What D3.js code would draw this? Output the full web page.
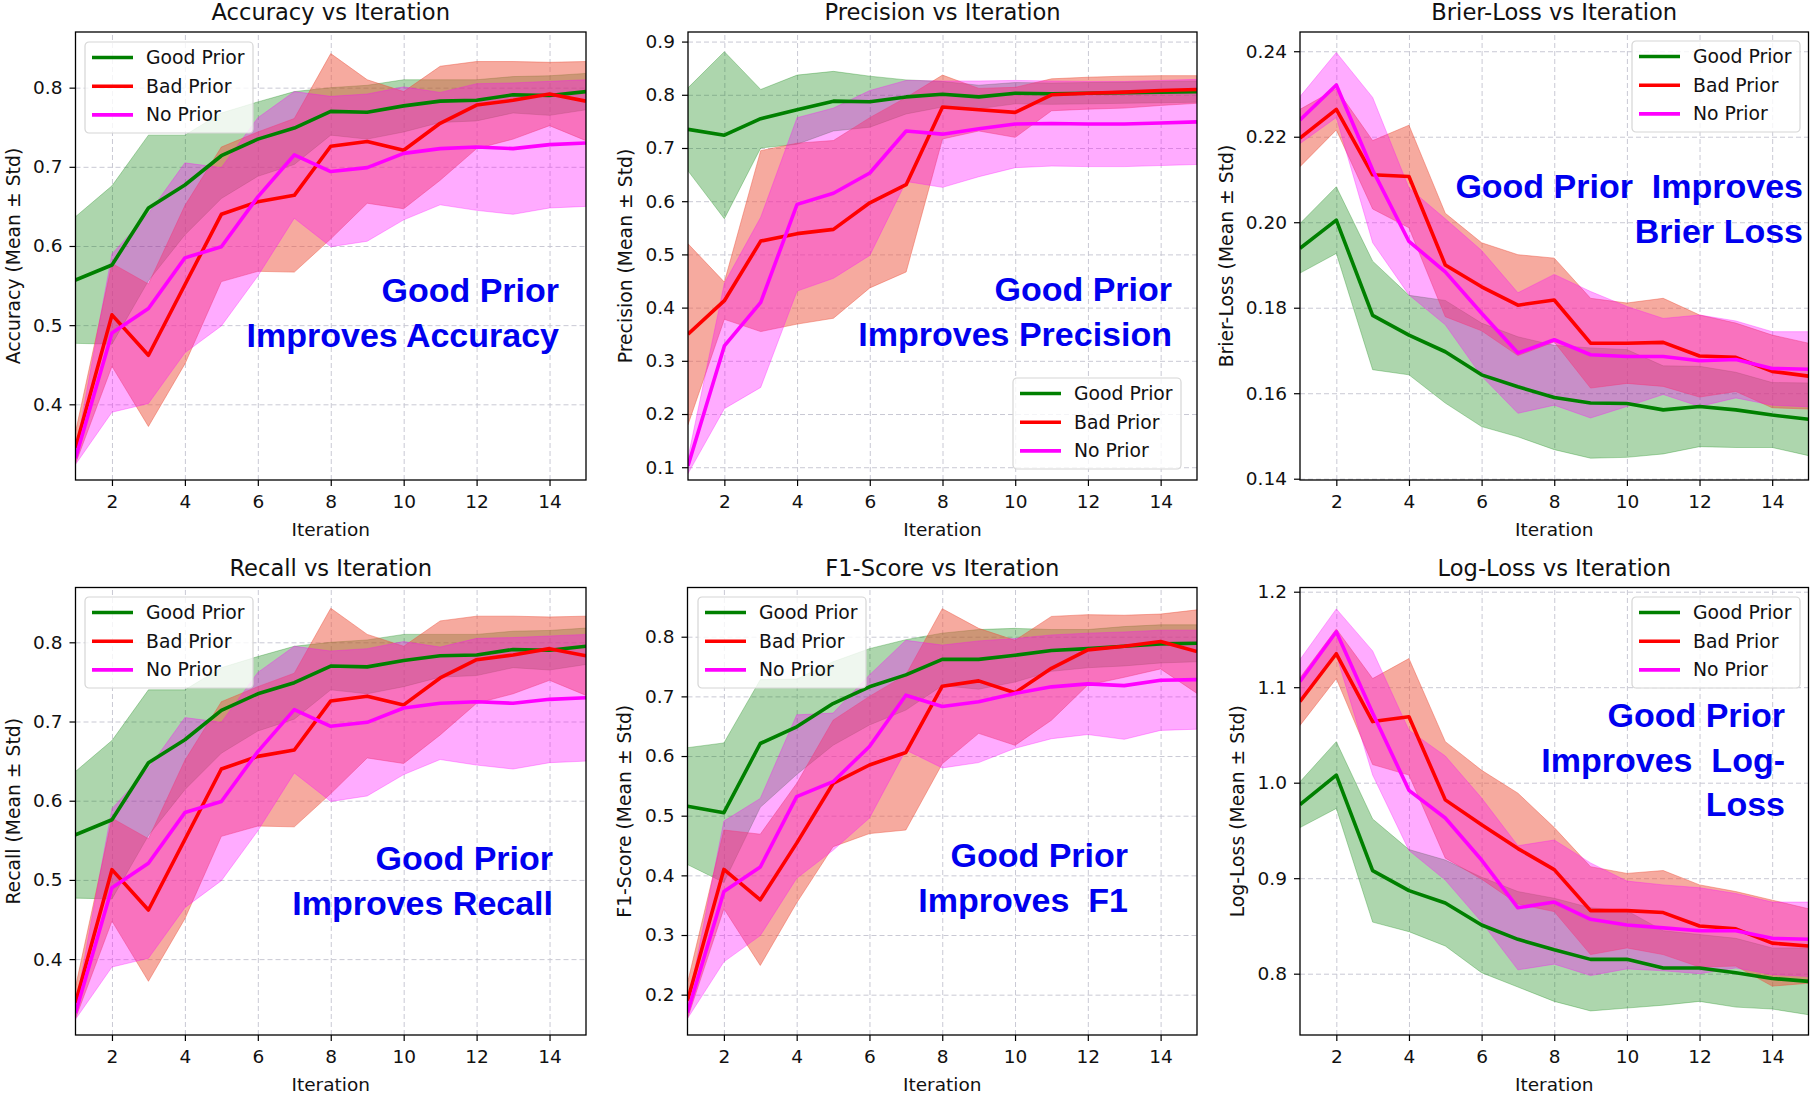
<!DOCTYPE html>
<html>
<head>
<meta charset="utf-8">
<script src="https://cdn.jsdelivr.net/npm/d3@7/dist/d3.min.js"></script>
<style>
body { margin:0; background:#fff; }
svg text { font-family:"DejaVu Sans", sans-serif; fill:#111; }
svg text.note { font-family:"Liberation Sans", Arial, sans-serif; font-weight:bold; fill:#0000ee; }
</style>
</head>
<body>
<svg id="mysvg" width="1814" height="1094"></svg>
<script>
var iterations = [1,2,3,4,5,6,7,8,9,10,11,12,13,14,15];
var seriesNames = ["Good Prior", "Bad Prior", "No Prior"];
var xTicks = [2,4,6,8,10,12,14];

// accuracy (recall panel shows the very same curves)
var accGoodMean = [0.557,0.576,0.648,0.677,0.714,0.735,0.749,0.770,0.769,0.777,0.783,0.784,0.791,0.790,0.795];
var accGoodStd  = [0.080,0.100,0.092,0.063,0.054,0.047,0.046,0.030,0.034,0.033,0.027,0.026,0.023,0.025,0.023];
var accBadMean  = [0.345,0.513,0.462,0.551,0.640,0.656,0.664,0.726,0.732,0.721,0.755,0.778,0.784,0.792,0.783];
var accBadStd   = [0.020,0.065,0.090,0.100,0.085,0.088,0.097,0.117,0.078,0.074,0.072,0.055,0.049,0.040,0.050];
var accNoMean   = [0.332,0.490,0.521,0.585,0.599,0.662,0.715,0.694,0.699,0.717,0.723,0.725,0.723,0.728,0.730];
var accNoStd    = [0.008,0.100,0.120,0.120,0.100,0.100,0.080,0.095,0.093,0.084,0.071,0.080,0.083,0.080,0.080];

var precGoodMean = [0.735,0.724,0.755,0.772,0.788,0.787,0.796,0.801,0.796,0.803,0.802,0.803,0.804,0.805,0.806];
var precGoodStd  = [0.078,0.157,0.055,0.065,0.056,0.048,0.032,0.024,0.022,0.020,0.020,0.020,0.020,0.020,0.020];
var precBadMean  = [0.350,0.413,0.525,0.539,0.547,0.597,0.631,0.777,0.772,0.767,0.800,0.803,0.805,0.808,0.810];
var precBadStd   = [0.170,0.035,0.170,0.170,0.167,0.160,0.164,0.060,0.040,0.047,0.030,0.030,0.030,0.028,0.026];
var precNoMean   = [0.103,0.328,0.410,0.594,0.615,0.653,0.732,0.726,0.736,0.745,0.746,0.745,0.745,0.747,0.749];
var precNoStd    = [0.015,0.118,0.160,0.163,0.160,0.155,0.095,0.100,0.090,0.082,0.080,0.080,0.080,0.080,0.080];

var brGoodMean = [0.1939,0.2005,0.1782,0.1736,0.1697,0.1643,0.1615,0.1590,0.1577,0.1576,0.1561,0.1569,0.1561,0.1549,0.1539];
var brGoodStd  = [0.0058,0.0078,0.0127,0.0093,0.0120,0.0121,0.0117,0.0122,0.0129,0.0126,0.0103,0.0094,0.0088,0.0076,0.0085];
var brBadMean  = [0.2197,0.2264,0.2111,0.2107,0.1900,0.1849,0.1806,0.1818,0.1717,0.1717,0.1719,0.1687,0.1684,0.1651,0.1640];
var brBadStd   = [0.0067,0.0048,0.0080,0.0120,0.0121,0.0103,0.0118,0.0098,0.0105,0.0094,0.0103,0.0096,0.0080,0.0085,0.0077];
var brNoMean   = [0.2239,0.2321,0.2122,0.1955,0.1884,0.1787,0.1694,0.1725,0.1690,0.1686,0.1686,0.1676,0.1679,0.1658,0.1656];
var brNoStd    = [0.0055,0.0076,0.0170,0.0125,0.0124,0.0147,0.0141,0.0153,0.0148,0.0117,0.0089,0.0107,0.0090,0.0086,0.0088];

var f1GoodMean = [0.516,0.505,0.621,0.649,0.688,0.716,0.736,0.762,0.762,0.769,0.777,0.780,0.784,0.788,0.789];
var f1GoodStd  = [0.098,0.117,0.107,0.080,0.070,0.064,0.059,0.044,0.050,0.045,0.035,0.032,0.033,0.032,0.031];
var f1BadMean  = [0.190,0.410,0.359,0.454,0.554,0.585,0.606,0.717,0.726,0.706,0.747,0.778,0.784,0.792,0.775];
var f1BadStd   = [0.030,0.066,0.110,0.100,0.106,0.115,0.130,0.130,0.088,0.088,0.087,0.059,0.052,0.046,0.070];
var f1NoMean   = [0.170,0.373,0.414,0.532,0.557,0.616,0.702,0.683,0.691,0.705,0.716,0.721,0.718,0.727,0.728];
var f1NoStd    = [0.010,0.118,0.115,0.137,0.115,0.120,0.092,0.103,0.102,0.092,0.087,0.085,0.090,0.084,0.083];

var llGoodMean = [0.977,1.008,0.908,0.887,0.874,0.851,0.836,0.825,0.815,0.815,0.806,0.806,0.801,0.795,0.792];
var llGoodStd  = [0.024,0.035,0.054,0.043,0.045,0.050,0.050,0.054,0.054,0.051,0.039,0.035,0.036,0.032,0.035];
var llBadMean  = [1.085,1.135,1.064,1.069,0.982,0.956,0.931,0.909,0.866,0.866,0.864,0.850,0.847,0.832,0.829];
var llBadStd   = [0.025,0.026,0.045,0.061,0.061,0.057,0.058,0.044,0.046,0.039,0.044,0.043,0.039,0.045,0.039];
var llNoMean   = [1.106,1.158,1.073,0.992,0.963,0.919,0.869,0.875,0.857,0.851,0.848,0.845,0.845,0.837,0.836];
var llNoStd    = [0.023,0.024,0.065,0.063,0.065,0.065,0.065,0.065,0.059,0.046,0.045,0.045,0.039,0.038,0.039];

var accTicks  = [0.4,0.5,0.6,0.7,0.8];
var precTicks = [0.1,0.2,0.3,0.4,0.5,0.6,0.7,0.8,0.9];
var brTicks   = [0.14,0.16,0.18,0.20,0.22,0.24];
var f1Ticks   = [0.2,0.3,0.4,0.5,0.6,0.7,0.8];
var llTicks   = [0.8,0.9,1.0,1.1,1.2];

var lineColors = ["green", "red", "magenta"];
var fillColors = ["green", "#ee5540", "magenta"];
var fillAlpha  = [0.32, 0.5, 0.33];

var panels = [
	{title:"Accuracy vs Iteration", ylab:"Accuracy (Mean \u00b1 Std)", left:75.5, right:586, top:32, bottom:480,
	 dom:[0.3044,0.8703], ticks:accTicks, fmt:".1f", ylabX:13,
	 series:[[accGoodMean,accGoodStd],[accBadMean,accBadStd],[accNoMean,accNoStd]],
	 legend:[85,42], note:["Good Prior","Improves Accuracy"], noteX:559, noteY:302},
	{title:"Precision vs Iteration", ylab:"Precision (Mean \u00b1 Std)", left:688, right:1197, top:32, bottom:480,
	 dom:[0.076,0.918], ticks:precTicks, fmt:".1f", ylabX:625,
	 series:[[precGoodMean,precGoodStd],[precBadMean,precBadStd],[precNoMean,precNoStd]],
	 legend:[1013,378], note:["Good Prior","Improves Precision"], noteX:1172, noteY:301},
	{title:"Brier-Loss vs Iteration", ylab:"Brier-Loss (Mean \u00b1 Std)", left:1300, right:1808.5, top:32, bottom:480,
	 dom:[0.1397,0.2445], ticks:brTicks, fmt:".2f", ylabX:1226,
	 series:[[brGoodMean,brGoodStd],[brBadMean,brBadStd],[brNoMean,brNoStd]],
	 legend:[1632,41], note:["Good Prior  Improves","Brier Loss"], noteX:1803, noteY:198},
	{title:"Recall vs Iteration", ylab:"Recall (Mean \u00b1 Std)", left:75.5, right:586, top:587.5, bottom:1035,
	 dom:[0.3042,0.8692], ticks:accTicks, fmt:".1f", ylabX:13,
	 series:[[accGoodMean,accGoodStd],[accBadMean,accBadStd],[accNoMean,accNoStd]],
	 legend:[85,597], note:["Good Prior","Improves Recall"], noteX:553, noteY:870},
	{title:"F1-Score vs Iteration", ylab:"F1-Score (Mean \u00b1 Std)", left:687.5, right:1197, top:587.5, bottom:1035,
	 dom:[0.1324,0.8825], ticks:f1Ticks, fmt:".1f", ylabX:624,
	 series:[[f1GoodMean,f1GoodStd],[f1BadMean,f1BadStd],[f1NoMean,f1NoStd]],
	 legend:[698,597], note:["Good Prior","Improves  F1"], noteX:1128, noteY:867},
	{title:"Log-Loss vs Iteration", ylab:"Log-Loss (Mean \u00b1 Std)", left:1300, right:1808.5, top:587.5, bottom:1035,
	 dom:[0.7358,1.2044], ticks:llTicks, fmt:".1f", ylabX:1237,
	 series:[[llGoodMean,llGoodStd],[llBadMean,llBadStd],[llNoMean,llNoStd]],
	 legend:[1632,597], note:["Good Prior","Improves  Log-","Loss"], noteX:1785, noteY:727}
];

var svg = d3.select("#mysvg");
svg.append("rect").attr("width",1814).attr("height",1094).attr("fill","#fff");

function drawPanel (p, k) {
	var x = d3.scaleLinear().domain([1,15]).range([p.left, p.right]);
	var y = d3.scaleLinear().domain(p.dom).range([p.bottom, p.top]);
	var g = svg.append("g");
	var w = p.right - p.left, h = p.bottom - p.top;

	g.append("clipPath").attr("id","clip"+k)
		.append("rect").attr("x",p.left).attr("y",p.top).attr("width",w).attr("height",h);

	// dashed grid
	g.append("g").attr("transform","translate(0,"+p.bottom+")")
		.call(d3.axisBottom(x).tickValues(xTicks).tickSize(-h).tickFormat(""))
		.call(s => s.select(".domain").remove())
		.selectAll("line").attr("stroke","#c9c9d4").attr("stroke-dasharray","5,3");
	g.append("g").attr("transform","translate("+p.left+",0)")
		.call(d3.axisLeft(y).tickValues(p.ticks).tickSize(-w).tickFormat(""))
		.call(s => s.select(".domain").remove())
		.selectAll("line").attr("stroke","#c9c9d4").attr("stroke-dasharray","5,3");

	var plot = g.append("g").attr("clip-path","url(#clip"+k+")");
	for (var j = 0 ; j < p.series.length ; ++j) {
		var mean = p.series[j][0], sd = p.series[j][1];
		var area = d3.area()
			.x((d,i) => x(iterations[i]))
			.y0((d,i) => y(mean[i] - sd[i]))
			.y1((d,i) => y(mean[i] + sd[i]));
		plot.append("path").datum(mean)
			.attr("d", area)
			.attr("fill", fillColors[j]).attr("fill-opacity", fillAlpha[j])
			.attr("stroke", fillColors[j]).attr("stroke-opacity", fillAlpha[j]*0.9)
			.attr("stroke-width", 1);
	}
	for (var j = 0 ; j < p.series.length ; ++j) {
		var mean = p.series[j][0];
		var line = d3.line().x((d,i) => x(iterations[i])).y(d => y(d));
		plot.append("path").datum(mean)
			.attr("d", line).attr("fill","none")
			.attr("stroke", lineColors[j]).attr("stroke-width", 3.6)
			.attr("stroke-linejoin","round");
	}

	// frame + axes
	g.append("rect").attr("x",p.left).attr("y",p.top).attr("width",w).attr("height",h)
		.attr("fill","none").attr("stroke","#000").attr("stroke-width",1.3);
	var ax = g.append("g").attr("transform","translate(0,"+p.bottom+")")
		.call(d3.axisBottom(x).tickValues(xTicks).tickSize(6).tickPadding(9).tickFormat(d3.format("d")));
	var ay = g.append("g").attr("transform","translate("+p.left+",0)")
		.call(d3.axisLeft(y).tickValues(p.ticks).tickSize(6).tickPadding(7).tickFormat(d3.format(p.fmt)));
	[ax, ay].forEach(function (a) {
		a.select(".domain").remove();
		a.selectAll("line").attr("stroke","#000").attr("stroke-width",1.2);
		a.selectAll("text").attr("font-size","18.5px").attr("font-family","DejaVu Sans").attr("fill","#111");
	});

	var cx = (p.left + p.right) / 2;
	g.append("text").attr("x",cx).attr("y",p.top - 12).attr("text-anchor","middle")
		.attr("font-size","22.6px").text(p.title);
	g.append("text").attr("x",cx).attr("y",p.bottom + 56).attr("text-anchor","middle")
		.attr("font-size","18.5px").text("Iteration");
	g.append("text").attr("transform","translate("+p.ylabX+","+((p.top+p.bottom)/2)+") rotate(-90)")
		.attr("text-anchor","middle").attr("dy","0.35em")
		.attr("font-size","18.8px").text(p.ylab);

	// annotation
	var note = g.append("text").attr("class","note").attr("text-anchor","end")
		.attr("font-size","34px").attr("xml:space","preserve");
	p.note.forEach(function (t, i) {
		note.append("tspan").attr("x",p.noteX).attr("y",p.noteY + i*44.5).style("white-space","pre").text(t);
	});

	// legend
	var lg = g.append("g").attr("transform","translate("+p.legend[0]+","+p.legend[1]+")");
	lg.append("rect").attr("width",168).attr("height",91).attr("rx",4)
		.attr("fill","#fff").attr("fill-opacity",0.8).attr("stroke","#d6d6d6").attr("stroke-width",1.2);
	seriesNames.forEach(function (n, i) {
		var yy = 15.5 + i*28.7;
		lg.append("line").attr("x1",7).attr("x2",48).attr("y1",yy).attr("y2",yy)
			.attr("stroke",lineColors[i]).attr("stroke-width",3.6);
		lg.append("text").attr("x",61).attr("y",yy).attr("dy","0.35em")
			.attr("font-size","18.8px").text(n);
	});
}

panels.forEach(drawPanel);
</script>
</body>
</html>
